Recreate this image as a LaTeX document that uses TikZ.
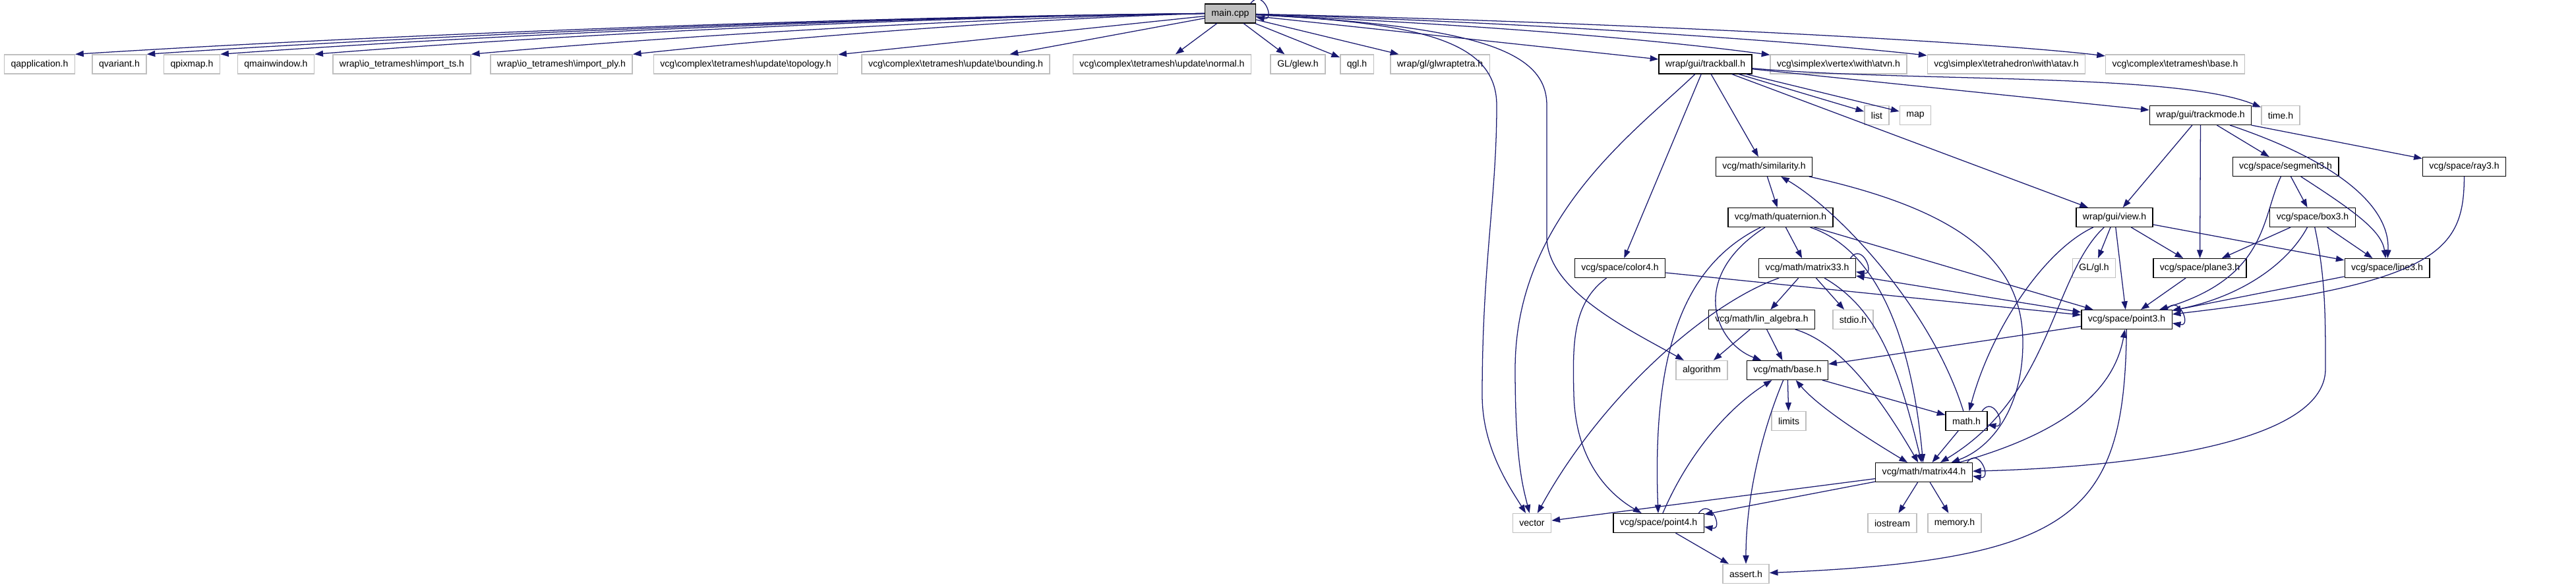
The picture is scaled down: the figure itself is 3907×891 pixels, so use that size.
\documentclass[tikz,border=0pt]{standalone}
\usepackage{fontspec}
\setmainfont{Liberation Sans}
\usepackage{xcolor}
\usepackage{tikz}
\usetikzlibrary{arrows.meta}

\definecolor{edgeblue}{HTML}{191970}
\definecolor{extgray}{HTML}{BFBFBF}
\newcommand{\bksl}{\textbackslash}

\begin{document}
\begin{tikzpicture}[
    x=0.025cm, y=0.025cm,
    file/.style={draw=black, line width=0.9pt, fill=white, minimum height=0.72cm, inner xsep=0.25cm, inner ysep=0pt, font=\fontsize{10}{12}\selectfont},
    ext/.style={file, draw=extgray, line width=1.1pt},
    root/.style={file, fill=extgray},
    arr/.style={-{Triangle[length=9pt, width=6.5pt]}, color=edgeblue, line width=0.9pt},
    arrb/.style={arr, {Triangle[length=9pt, width=6.5pt]}-{Triangle[length=9pt, width=6.5pt]}},
    selfloop/.style={arr, out=55, in=-10, looseness=3.5}
  ]
  \useasboundingbox[fill=white] (0,0) rectangle (3907,-891);

  % top rows
  \node[root] (main) at (1866,-20.5) {main.cpp};
  \node[ext] (qapp) at (60,-97.5) {qapplication.h};
  \node[ext] (qvar) at (181,-97.5) {qvariant.h};
  \node[ext] (qpix) at (291,-97.5) {qpixmap.h};
  \node[ext] (qmain) at (418.5,-97.5) {qmainwindow.h};
  \node[ext] (impts) at (609.5,-97.5) {wrap\bksl io\_tetramesh\bksl import\_ts.h};
  \node[ext] (impply) at (851.5,-97.5) {wrap\bksl io\_tetramesh\bksl import\_ply.h};
  \node[ext] (topo) at (1131,-97.5) {vcg\bksl complex\bksl tetramesh\bksl update\bksl topology.h};
  \node[ext] (bound) at (1449.5,-97.5) {vcg\bksl complex\bksl tetramesh\bksl update\bksl bounding.h};
  \node[ext] (normal) at (1762.5,-97.5) {vcg\bksl complex\bksl tetramesh\bksl update\bksl normal.h};
  \node[ext] (glew) at (1968.5,-97.5) {GL/glew.h};
  \node[ext] (qgl) at (2058,-97.5) {qgl.h};
  \node[ext] (glwrap) at (2184,-97.5) {wrap/gl/glwraptetra.h};
  \node[file] (tball) at (2586.5,-97.5) {wrap/gui/trackball.h};
  \node[ext] (atvn) at (2788.5,-97.5) {vcg\bksl simplex\bksl vertex\bksl with\bksl atvn.h};
  \node[ext] (atav) at (3043,-97.5) {vcg\bksl simplex\bksl tetrahedron\bksl with\bksl atav.h};
  \node[ext] (tbase) at (3299,-97.5) {vcg\bksl complex\bksl tetramesh\bksl base.h};

  \node[ext] (list) at (2846.5,-175) {list};
  \node[ext] (map) at (2905,-175) {map};
  \node[file] (tmode) at (3337.5,-175) {wrap/gui/trackmode.h};
  \node[ext] (time) at (3459,-175) {time.h};

  % vcg headers
  \node[file] (sim) at (2675.5,-253) {vcg/math/similarity.h};
  \node[file] (seg3) at (3466.5,-253) {vcg/space/segment3.h};
  \node[file] (ray3) at (3737.5,-253) {vcg/space/ray3.h};
  \node[file] (quat) at (2700.5,-330) {vcg/math/quaternion.h};
  \node[file] (view) at (3207,-330) {wrap/gui/view.h};
  \node[file] (box3) at (3507.5,-330) {vcg/space/box3.h};
  \node[file] (color4) at (2457,-407) {vcg/space/color4.h};
  \node[file] (m33) at (2741,-407) {vcg/math/matrix33.h};
  \node[ext] (gl) at (3176,-407) {GL/gl.h};
  \node[file] (plane3) at (3336.5,-407) {vcg/space/plane3.h};
  \node[file] (line3) at (3620.5,-407) {vcg/space/line3.h};
  \node[file] (linalg) at (2672,-485) {vcg/math/lin\_algebra.h};
  \node[ext] (stdio) at (2810.5,-485) {stdio.h};
  \node[file] (point3) at (3225.5,-485) {vcg/space/point3.h};
  \node[ext] (algo) at (2581,-562) {algorithm};
  \node[file] (mbase) at (2711,-562) {vcg/math/base.h};
  \node[ext] (limits) at (2713,-639) {limits};
  \node[file] (math) at (2982.5,-639) {math.h};
  \node[file] (m44) at (2918,-717) {vcg/math/matrix44.h};
  \node[ext] (vector) at (2323.5,-794) {vector};
  \node[file] (point4) at (2515.5,-794) {vcg/space/point4.h};
  \node[ext] (iostream) at (2870,-794) {iostream};
  \node[ext] (memory) at (2964.5,-794) {memory.h};
  \node[ext] (assert) at (2648,-871) {assert.h};

  % main.cpp
  \draw[arr] (main.west) .. controls (1313,-25) and (594,-52) .. (qapp.north east);
  \draw[arr] (main.west) .. controls (1345,-25) and (673,-52) .. (qvar.north east);
  \draw[arr] (main.west) .. controls (1379,-25) and (752,-52) .. (qpix.north east);
  \draw[arr] (main.west) .. controls (1421,-25) and (855,-52) .. (qmain.north east);
  \draw[arr] (main.west) .. controls (1494,-27) and (1028,-54) .. (impts.north east);
  \draw[arr] (main.west) .. controls (1567,-28) and (1204,-56) .. (impply.north east);
  \draw[arr] (main) -- (topo);
  \draw[arr] (main) -- (bound);
  \draw[arr] (main) -- (normal);
  \draw[arr] (main) -- (glew);
  \draw[arr] (main) -- (qgl);
  \draw[arr] (main) -- (glwrap);
  \draw[arr] (main) -- (tball);
  \draw[arr] (main) .. controls (2300,-40) and (2550,-65) .. (atvn);
  \draw[arr] (main) .. controls (2350,-35) and (2750,-65) .. (atav);
  \draw[arr] (main) .. controls (2400,-32) and (3000,-62) .. (tbase);
  \draw[arr] (main) .. controls (2150,-35) and (2270,-60) .. (2270,-160) .. controls (2270,-300) and (2248,-400) .. (2248,-600) .. controls (2248,-680) and (2290,-740) .. (vector);
  \draw[arr] (main) .. controls (2250,-40) and (2346,-80) .. (2346,-160) -- (2346,-360) .. controls (2346,-440) and (2470,-500) .. (algo);
  \draw[selfloop] ([xshift=-6pt]main.north east) to ([yshift=-4pt]main.east);

  % trackball / trackmode
  \draw[arr] (tball) .. controls (2480,-200) and (2298,-330) .. (2298,-560) .. controls (2298,-700) and (2310,-740) .. (vector);
  \draw[arr] (tball) -- (color4);
  \draw[arr] (tball) -- (sim);
  \draw[arr] (tball) -- (view);
  \draw[arr] (tball) -- (list);
  \draw[arr] (tball) -- (map);
  \draw[arr] (tball) -- (tmode);
  \draw[arr] (tball) .. controls (2900,-125) and (3300,-110) .. (time);
  \draw[arr] (tmode) -- (view);
  \draw[arr] (tmode) -- (plane3);
  \draw[arr] (tmode) -- (seg3);
  \draw[arr] (tmode) .. controls (3560,-250) and (3625,-320) .. (line3);
  \draw[arr] (tmode) -- (ray3);

  % space
  \draw[arr] (seg3) -- (box3);
  \draw[arr] (seg3) .. controls (3430,-330) and (3440,-420) .. (point3);
  \draw[arr] (seg3) .. controls (3570,-320) and (3612,-350) .. (line3);
  \draw[arr] (ray3) .. controls (3737,-380) and (3700,-430) .. (point3);
  \draw[arr] (view) -- (gl);
  \draw[arr] (view) -- (plane3);
  \draw[arr] (view) -- (line3);
  \draw[arr] (view) -- (point3);
  \draw[arr] (view) .. controls (3100,-380) and (3020,-500) .. (math);
  \draw[arr] (view) .. controls (3112,-420) and (3112,-600) .. (m44);
  \draw[arr] (box3) -- (plane3);
  \draw[arr] (box3) -- (line3);
  \draw[arr] (box3) .. controls (3470,-400) and (3400,-450) .. (point3);
  \draw[arr] (box3) .. controls (3527,-420) and (3527,-480) .. (3527,-560) .. controls (3527,-680) and (3200,-710) .. (m44);
  \draw[arr] (plane3) -- (point3);
  \draw[arr] (line3) -- (point3);
  \draw[arr] (color4) -- (point3);
  \draw[arr] (color4) .. controls (2385,-460) and (2385,-520) .. (2387,-600) .. controls (2390,-700) and (2440,-750) .. (point4);

  % math
  \draw[arr] (sim) -- (quat);
  \draw[arr] (sim) .. controls (2980,-320) and (3068,-400) .. (3068,-520) .. controls (3068,-620) and (3020,-680) .. (m44);
  \draw[arr] (math) .. controls (2930,-470) and (2790,-320) .. (sim);
  \draw[arr] (quat) -- (m33);
  \draw[arr] (quat) -- (point3);
  \draw[arr] (quat) .. controls (2850,-380) and (2900,-520) .. (m44);
  \draw[arr] (quat) .. controls (2560,-400) and (2505,-520) .. (point4);
  \draw[arr] (quat) .. controls (2560,-420) and (2600,-520) .. (mbase);
  \draw[arr] (m33) -- (linalg);
  \draw[arr] (m33) -- (stdio);
  \draw[arr] (m33) .. controls (2590,-460) and (2430,-600) .. (vector);
  \draw[arr] (m33) .. controls (2850,-470) and (2880,-560) .. (m44);
  \draw[arrb] (m33) -- (point3);
  \draw[selfloop] ([xshift=-6pt]m33.north east) to ([yshift=-4pt]m33.east);
  \draw[arr] (linalg) -- (algo);
  \draw[arr] (linalg) -- (mbase);
  \draw[arr] (linalg) .. controls (2790,-520) and (2850,-600) .. (m44);
  \draw[arr] (mbase) -- (limits);
  \draw[arr] (mbase) -- (math);
  \draw[arr] (mbase) .. controls (2670,-660) and (2648,-760) .. (assert);
  \draw[arrb] (mbase) .. controls (2760,-620) and (2840,-670) .. (m44);
  \draw[arr] (math) -- (m44);
  \draw[selfloop] ([xshift=-6pt]math.north east) to ([yshift=-4pt]math.east);
  \draw[arr] (point4) .. controls (2560,-690) and (2620,-620) .. (mbase);
  \draw[arr] (point4) -- (assert);
  \draw[selfloop] ([xshift=-6pt]point4.north east) to ([yshift=-4pt]point4.east);
  \draw[arr] (point3) -- (mbase);
  \draw[arr] (point3) .. controls (3222,-780) and (3150,-850) .. (assert);
  \draw[selfloop] ([xshift=-6pt]point3.north east) to ([yshift=-4pt]point3.east);
  \draw[arr] (m44) .. controls (3120,-660) and (3205,-600) .. (point3);
  \draw[arr] (m44) -- (vector);
  \draw[arr] (m44) -- (point4);
  \draw[arr] (m44) -- (iostream);
  \draw[arr] (m44) -- (memory);
  \draw[selfloop] ([xshift=-6pt]m44.north east) to ([yshift=-4pt]m44.east);
\end{tikzpicture}
\end{document}
